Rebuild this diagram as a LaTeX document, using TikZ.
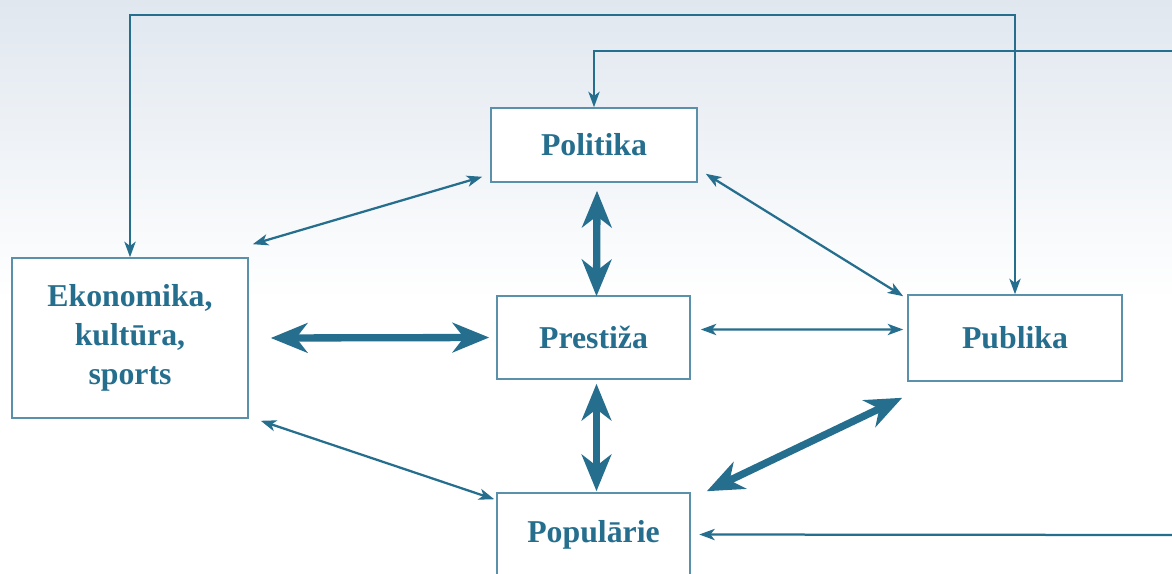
\documentclass[tikz,border=0pt]{standalone}
\usepackage{fontspec}
\setmainfont{Liberation Serif}
\usetikzlibrary{arrows.meta}
\definecolor{teal}{RGB}{37,110,142}
\definecolor{boxline}{RGB}{90,144,170}
\definecolor{bgtop}{RGB}{224,231,239}
\begin{document}
\begin{tikzpicture}[x=0.025cm,y=-0.025cm,
    box/.style={draw=boxline,line width=1.1pt,fill=white,text=teal,
      font=\fontsize{22.6}{27.5}\selectfont\bfseries,align=center},
    thin/.style={teal,line width=1.6pt,{Stealth[length=11pt,width=8pt,inset=3pt]}-{Stealth[length=11pt,width=8pt,inset=3pt]}},
    thinto/.style={teal,line width=1.6pt,-{Stealth[length=11pt,width=8pt,inset=3pt]}},
    thick/.style={teal,line width=5.2pt,{Stealth[length=26pt,width=21pt,inset=8pt]}-{Stealth[length=26pt,width=21pt,inset=8pt]}}]
      \useasboundingbox (0,0) rectangle (1172,573);
      \fill[white] (0,0) rectangle (1172,573);
      \fill[top color=bgtop,bottom color=white] (0,0) rectangle (1172,300);
      \draw
        (594,145) node[box,minimum width=5.15cm,minimum height=1.85cm] (pol){Politika}
        (130,338) node[box,minimum width=5.9cm,minimum height=4cm] (eko){Ekonomika,\\kultūra,\\sports}
        (593.5,337.5) node[box,minimum width=4.825cm,minimum height=2.075cm] (pre){Prestiža}
        (1015,338) node[box,minimum width=5.35cm,minimum height=2.15cm] (pub){Publika}
        (593.5,534.5) node[box,minimum width=4.825cm,minimum height=2.075cm] (pop){Populārie};
      \coordinate (polin) at (1172,51);
      \coordinate (popin) at (1172,535);
      \begin{scope}[thin]
        \draw ([shift={(4,-13)}]eko.north east) to ([shift={(-8,-6)}]pol.south west);
        \draw ([shift={(8,-9)}]pol.south east) to ([shift={(-4,2)}]pub.north west);
        \draw ([shift={(10,-8)}]pre.east) to ([shift={(-4,-8.5)}]pub.west);
        \draw ([shift={(12,2)}]eko.south east) to ([shift={(-2,7)}]pop.north west);
        \draw (eko.north) |- (1015,15) -| (pub.north);
      \end{scope}
      \draw[thinto] (polin) -| (pol.north);
      \draw[thinto,shorten >=6pt] (popin) to (pop.east);
      \begin{scope}[thick]
        \draw ([shift={(3,8)}]pol.south) to ([shift={(3,1)}]pre.north);
        \draw ([shift={(22,0)}]eko.east) to ([shift={(-7,0)}]pre.west);
        \draw ([shift={(3,4)}]pre.south) to ([shift={(3,-1)}]pop.north);
        \draw ([shift={(-5,16)}]pub.south west) to ([shift={(16,-1)}]pop.north east);
      \end{scope}
    \end{tikzpicture}
\end{document}
